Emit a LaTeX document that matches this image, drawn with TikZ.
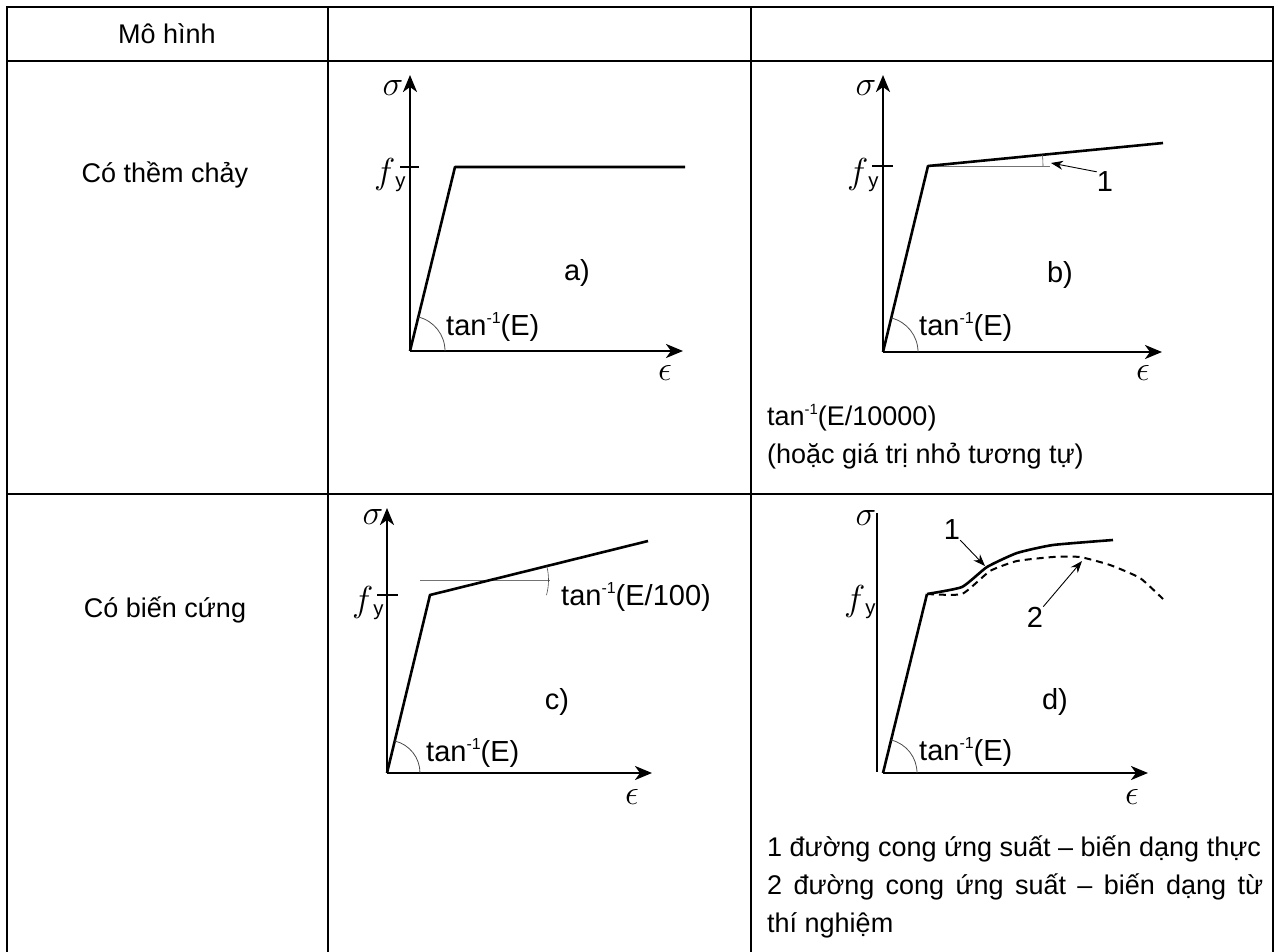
\documentclass[tikz,border=0pt]{standalone}
\usepackage{fontspec}
\setmainfont{Liberation Sans}
\usetikzlibrary{arrows.meta,angles}
\tikzset{
  grid line/.style={line width=2pt},
  axis/.style={line width=2.6pt,-{Stealth[length=17pt,width=14pt,inset=5pt]}},
  curve/.style={line width=2.6pt,line join=round},
  ref line/.style={line width=0.7pt,black!55},
  tan arc/.style={draw=black!70,line width=0.8pt},
  cell/.style={font=\fontsize{27}{38}\selectfont,inner sep=0pt},
  lbl/.style={font=\fontsize{29}{35}\selectfont,inner sep=0pt},
  greek/.style={font=\fontsize{24.88}{30}\selectfont,inner sep=0pt,scale=1.4},
  pointer/.style={line width=0.9pt,-{Stealth[length=12pt,width=9pt]}},
}
\newcommand*\tanlabel[1]{tan\raisebox{0.42em}{\fontsize{0.55em}{0.6em}\selectfont -1}(#1)}
\newcommand*\fylabel{\scalebox{1.45}{$f$}\textsubscript{y}}

\begin{document}
\begin{tikzpicture}[x=1pt,y=-1pt]
\useasboundingbox (0,0) rectangle (1275,952);

% table
\draw[grid line] (7,960) -- (7,7) -- (1273,7) -- (1273,960);
\draw[grid line] (7,61) -- (1273,61) (7,494) -- (1273,494);
\draw[grid line] (328,7) -- (328,960) (751,7) -- (751,960);
\node[cell] (head) at (167,34) {Mô hình};
\node[cell] (row1) at (165,175) {Có thềm chảy};
\node[cell] (row2) at (165,610) {Có biến cứng};

% a)
\coordinate (oa) at (410,351);
\coordinate (ya) at (455,167);
\coordinate (xa) at (683,351);
\draw[axis] (oa) -- (410,75);
\draw[axis] (oa) -- (xa);
\draw[curve] (oa) -- (ya) -- (685,167);
\draw[line width=2pt] (400,167) -- (419,167);
\pic[tan arc,angle radius=35pt] {angle=xa--oa--ya};
\node[greek] (siga) at (393,88) {$\sigma$};
\node[lbl] (fya) at (390,175) {\fylabel};
\node[lbl] (capa) at (577,273) {a)};
\node[lbl,anchor=west] (tana) at (446,327) {\tanlabel{E}};
\node[greek] (epsa) at (665,373) {$\epsilon$};

% b)
\coordinate (ob) at (883,352);
\coordinate (yb) at (928,166);
\coordinate (xb) at (1162,352);
\coordinate (hb) at (1163,143);
\coordinate (rb) at (1050,166);
\draw[axis] (ob) -- (883,75);
\draw[axis] (ob) -- (xb);
\draw[ref line] (yb) -- (rb);
\draw[curve] (ob) -- (yb) -- (hb);
\draw[line width=2pt] (872,166) -- (893,166);
\pic[tan arc,angle radius=35pt] {angle=xb--ob--yb};
\pic[tan arc,line width=0.6pt,angle radius=115pt] {angle=rb--yb--hb};
\node[greek] (sigb) at (866,88) {$\sigma$};
\node[lbl] (fyb) at (863,175) {\fylabel};
\node[lbl] (oneb) at (1105,182) {1};
\coordinate (tipb) at (1051,163);
\draw[pointer] (oneb.north west) -- (tipb);
\node[lbl] (capb) at (1060,275) {b)};
\node[lbl,anchor=west] (tanb) at (919,327) {\tanlabel{E}};
\node[greek] (epsb) at (1143,373) {$\epsilon$};
\node[cell,anchor=west,align=left] (noteb) at (767,437)
  {\tanlabel{E/10000}\\(hoặc giá trị nhỏ tương tự)};

% c)
\coordinate (oc) at (387,773);
\coordinate (yc) at (430,595);
\coordinate (xc) at (652,773);
\coordinate (hc) at (648,541);
\coordinate (ic) at (490.5,580);
\coordinate (bc) at (546,595);
\draw[axis] (oc) -- (387,508);
\draw[axis] (oc) -- (xc);
\draw[ref line] (420,580) -- (550,580);
\draw[curve] (oc) -- (yc) -- (hc);
\draw[line width=2pt] (377,595) -- (398,595);
\pic[tan arc,angle radius=33pt] {angle=xc--oc--yc};
\pic[tan arc,line width=0.6pt,angle radius=58pt] {angle=bc--ic--hc};
\node[greek] (sigc) at (373,517) {$\sigma$};
\node[lbl] (fyc) at (368,603) {\fylabel};
\node[lbl,anchor=west] (tanhc) at (561,597) {\tanlabel{E/100}};
\node[lbl] (capc) at (557,702) {c)};
\node[lbl,anchor=west] (tanc) at (426,753) {\tanlabel{E}};
\node[greek] (epsc) at (632,797) {$\epsilon$};

% d)
\coordinate (od) at (883,773);
\coordinate (yd) at (927,594);
\coordinate (xd) at (1148,773);
\draw[line width=2.6pt] (877,513) -- (877,772);
\draw[axis] (od) -- (xd);
\draw[curve] (od) -- (yd);
\draw[curve] plot[smooth,tension=0.3] coordinates
  {(yd) (962,587) (987,567) (1017,553) (1053,545) (1113,540)};
\draw[curve,line width=2pt,dash pattern=on 7pt off 5pt] plot[smooth,tension=0.3] coordinates
  {(yd) (962,594) (990,571) (1017,561) (1053,557) (1080,557) (1110,565) (1140,578) (1163,599)};
\pic[tan arc,angle radius=34pt] {angle=xd--od--yd};
\node[greek] (sigd) at (866,518) {$\sigma$};
\node[lbl] (fyd) at (860,602) {\fylabel};
\node[lbl] (oned) at (952,530) {1};
\node[lbl] (twod) at (1035,617) {2};
\coordinate (tipd1) at (985,566);
\coordinate (tipd2) at (1082,561);
\draw[pointer] (oned.south east) -- (tipd1);
\draw[pointer] (twod.north east) -- (tipd2);
\node[lbl] (capd) at (1055,702) {d)};
\node[lbl,anchor=west] (tand) at (919,752) {\tanlabel{E}};
\node[greek] (epsd) at (1132,797) {$\epsilon$};
\node[cell,anchor=north west,text width=496pt,align=justify] (legd) at (767,836)
  {1 đường cong ứng suất – biến dạng thực\par
   2 đường cong ứng suất – biến dạng từ\linebreak thí nghiệm};

\end{tikzpicture}
\end{document}
